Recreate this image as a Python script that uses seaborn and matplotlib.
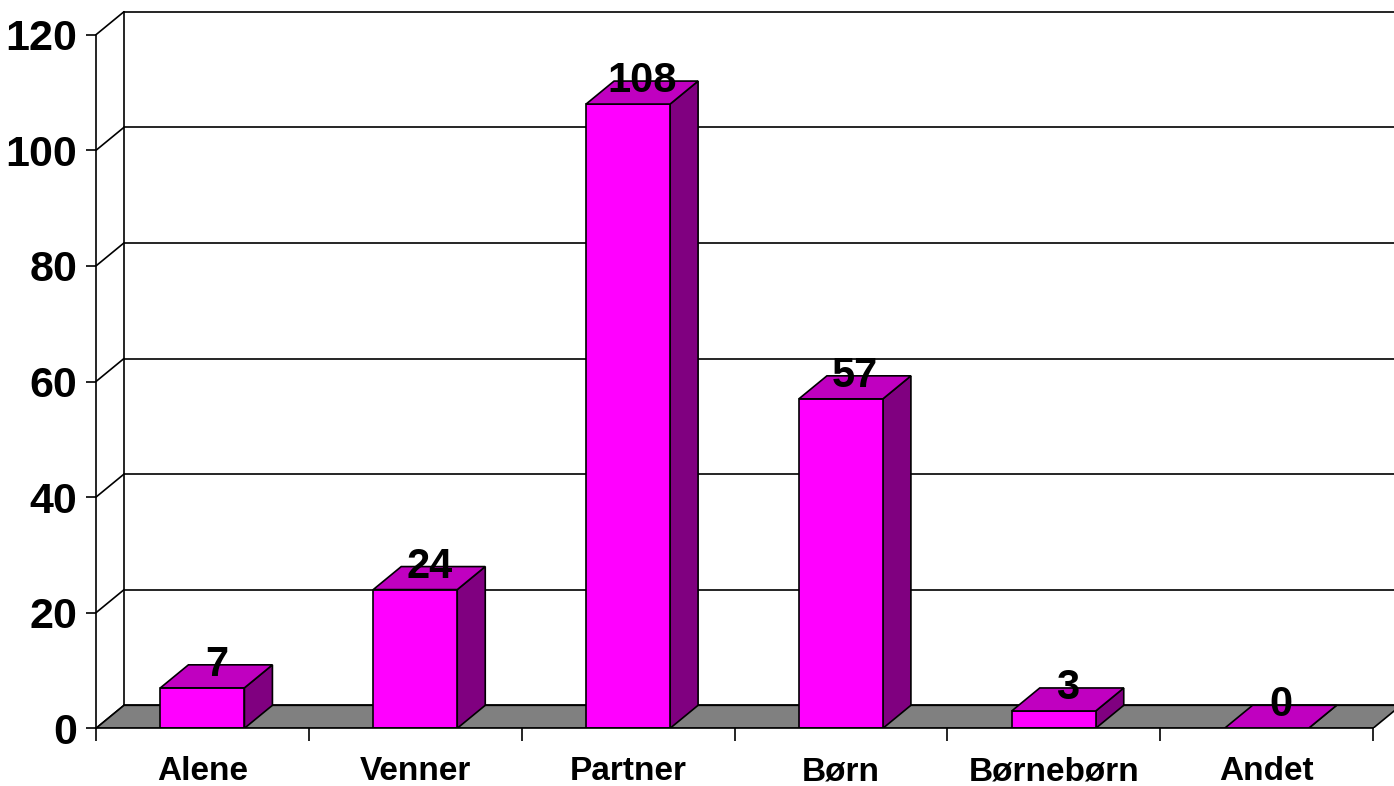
import matplotlib
matplotlib.use("Agg")
import matplotlib.pyplot as plt
from matplotlib.patches import Polygon
import seaborn as sns
import numpy as np

categories = ["Alene", "Venner", "Partner", "Børn", "Børnebørn", "Andet"]
values = [7, 24, 108, 57, 3, 0]
yticks = [0, 20, 40, 60, 80, 100, 120]

sns.set_theme(style="white")
plt.rcParams['font.family'] = ['Liberation Sans', 'DejaVu Sans']
plt.rcParams['font.weight'] = 'bold'
plt.rcParams['text.color'] = 'black'
plt.rcParams['xtick.color'] = 'black'
plt.rcParams['ytick.color'] = 'black'
plt.rcParams['xtick.labelcolor'] = 'black'
plt.rcParams['ytick.labelcolor'] = 'black'

W, H = 1394, 786
fig = plt.figure(figsize=(W / 100, H / 100), dpi=100)

# pixel geometry of the plotting frame
x0_px, xr_px = 96, 1373          # front axis start / end of last category
y0_px = 728.3                    # value 0
px_per_unit = 5.78
cat_px = (xr_px - x0_px) / len(categories)
ax_left = x0_px / W
ax_bottom = (H - y0_px) / H
ax = fig.add_axes([ax_left, ax_bottom, 1 - ax_left, y0_px / H])
xmax = len(categories) - 0.5 + (W - xr_px) / cat_px
ymax = y0_px / px_per_unit
ax.set_xlim(-0.5, xmax)
ax.set_ylim(0, ymax)

dx = 28 / cat_px
dy = 23 / px_per_unit
bw = 84 / cat_px

front = "#FF00FF"
top = "#C000C0"
side = "#800080"
floor = "#808080"

# back wall gridlines and side-wall diagonals
for t in yticks:
    ax.plot([-0.5 + dx, xmax + 1], [t + dy, t + dy], color="black", lw=1.2, zorder=1, clip_on=True)
    ax.plot([-0.5, -0.5 + dx], [t, t + dy], color="black", lw=1.2, zorder=1, clip_on=False)
ax.plot([-0.5 + dx, -0.5 + dx], [dy, yticks[-1] + dy], color="black", lw=1.2, zorder=1)

# floor
n = len(categories)
ax.add_patch(Polygon([(-0.5, 0), (-0.5 + dx, dy), (n - 0.5 + dx, dy), (n - 0.5, 0)],
                     closed=True, facecolor=floor, edgecolor="black", lw=1.2, zorder=2))

# front faces via seaborn
sns.barplot(x=categories, y=values, color=front, width=bw, edgecolor="black",
            linewidth=1.2, saturation=1, ax=ax, zorder=4)

for i, v in enumerate(values):
    l, r = i - bw / 2, i + bw / 2
    ax.add_patch(Polygon([(r, 0), (r + dx, dy), (r + dx, v + dy), (r, v)], closed=True,
                         facecolor=side, edgecolor="black", lw=1.2, zorder=3))
    ax.add_patch(Polygon([(l, v), (l + dx, v + dy), (r + dx, v + dy), (r, v)], closed=True,
                         facecolor=top, edgecolor="black", lw=1.2, zorder=5))
    ax.text(i + dx / 2, v + dy, str(v), ha="center", va="center", fontsize=30,
            fontweight="bold", color="black", zorder=6)

ax.set_xlim(-0.5, xmax)
ax.set_ylim(0, ymax)

for s in ["top", "right"]:
    ax.spines[s].set_visible(False)
ax.spines["left"].set_bounds(0, yticks[-1])
ax.spines["bottom"].set_bounds(-0.5, n - 0.5)
for s in ["left", "bottom"]:
    ax.spines[s].set_color("black")
    ax.spines[s].set_linewidth(1.2)
    ax.spines[s].set_zorder(7)

ax.set_yticks(yticks)
ax.set_yticklabels([str(t) for t in yticks], fontsize=31, fontweight="bold", color="black")
ax.tick_params(axis="y", direction="out", length=7.5, width=1.2, color="black", pad=6, left=True)

ax.set_xticks(np.arange(-0.5, n, 1.0))
ax.set_xticklabels([])
ax.set_xticks(np.arange(n), minor=True)
ax.set_xticklabels(categories, minor=True, fontsize=24, fontweight="bold", color="black")
ax.tick_params(axis="x", which="major", direction="out", length=9, width=1.2, color="black", bottom=True)
ax.tick_params(axis="x", which="minor", length=0, pad=20)
ax.set_xlabel("")
ax.set_ylabel("")
ax.grid(False)

fig.savefig("out.png", dpi=100)
